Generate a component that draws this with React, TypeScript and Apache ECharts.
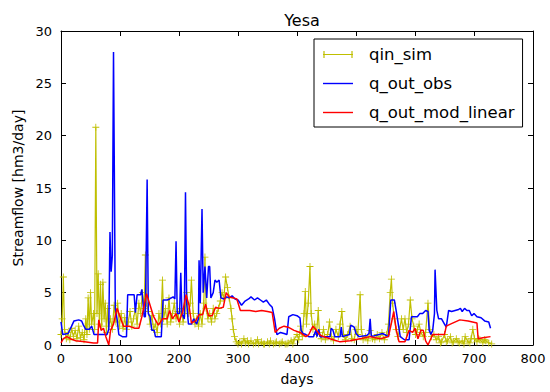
import React, { useEffect, useRef } from "react";
import * as echarts from "echarts";

const chartTitle = "Yesa";
const xName = "days";
const yName = "Streamflow [hm3/day]";
const seriesNames = ["qin_sim", "q_out_obs", "q_out_mod_linear"];

const qinDays = [
  0, 2, 4, 6, 9, 12, 15, 18, 21, 24, 27, 30, 33, 36, 39, 42, 44, 46, 48, 50, 52, 55, 57, 59, 61, 63, 65, 67, 69, 71,
  73, 75, 77, 79, 81, 84, 87, 90, 93, 96, 99, 102, 105, 108, 111, 114, 117, 120, 123, 126, 129, 132, 135, 138, 141,
  143, 145, 148, 151, 154, 157, 160, 163, 166, 169, 172, 174, 177, 180, 183, 186, 189, 192, 195, 198, 201, 204, 207,
  210, 213, 216, 219, 221, 224, 227, 230, 233, 236, 239, 242, 244, 246, 249, 252, 255, 258, 261, 264, 267, 270, 273,
  276, 279, 282, 285, 288, 290, 292, 294, 297, 300, 303, 306, 310, 313, 316, 318, 322, 326, 330, 333, 335, 340, 343,
  345, 350, 353, 355, 360, 363, 365, 370, 373, 375, 380, 383, 385, 390, 393, 395, 400, 403, 406, 409, 412, 414, 416,
  419, 422, 424, 427, 430, 433, 436, 438, 441, 445, 448, 452, 455, 458, 462, 466, 470, 473, 476, 479, 482, 486, 490,
  493, 497, 500, 503, 507, 509, 512, 516, 520, 524, 528, 532, 536, 540, 544, 548, 552, 555, 558, 560, 562, 565, 568,
  571, 574, 577, 580, 583, 586, 589, 592, 595, 598, 601, 604, 607, 610, 614, 618, 622, 625, 628, 632, 636, 640, 643,
  645, 650, 653, 655, 660, 663, 665, 670, 673, 675, 680, 683, 685, 690, 693, 695, 698, 701, 705, 708, 710, 715, 718,
  720, 725, 730,
];
const qinValues = [
  1.0, 2.5, 6.5, 1.5, 0.6, 1.2, 0.5, 1.6, 0.8, 1.4, 0.6, 1.8, 0.7, 1.2, 0.5, 2.5, 1.0, 4.5, 1.5, 5.0, 2.0, 3.0, 1.5,
  20.8, 3.0, 6.8, 2.0, 5.8, 1.8, 6.0, 2.5, 4.0, 1.2, 3.5, 1.8, 2.5, 1.5, 3.8, 2.2, 4.0, 1.8, 3.0, 1.6, 2.6, 1.5, 2.2,
  3.2, 1.8, 2.5, 3.5, 2.0, 4.0, 3.0, 5.0, 3.5, 8.6, 4.0, 3.2, 2.0, 2.8, 1.5, 2.0, 1.2, 3.0, 2.0, 6.2, 2.5, 3.5, 2.0,
  4.5, 2.2, 3.0, 4.0, 2.5, 3.2, 2.0, 3.5, 2.2, 3.0, 5.0, 3.0, 4.0, 6.2, 3.0, 2.0, 2.5, 1.8, 3.0, 2.0, 4.0, 8.4, 3.5,
  2.5, 3.0, 2.2, 3.5, 2.5, 3.0, 3.5, 4.2, 5.0, 4.5, 6.5, 5.5, 4.5, 3.5, 2.5, 1.5, 0.8, 0.3, 0.1, 0.3, 0.1, 0.6, 0.2,
  0.4, 0.1, 0.4, 0.1, 0.2, 0.5, 0.1, 0.3, 0.1, 0.1, 0.3, 0.1, 0.4, 0.1, 0.2, 0.3, 0.1, 0.2, 0.3, 0.1, 0.1, 0.2, 0.4,
  0.1, 0.5, 1.0, 0.5, 1.8, 0.8, 3.0, 5.1, 2.0, 4.0, 7.5, 3.0, 1.5, 2.0, 1.0, 3.3, 1.2, 0.6, 1.5, 0.5, 1.0, 2.2, 0.8,
  0.4, 1.5, 0.8, 2.0, 3.2, 1.0, 0.5, 1.0, 1.8, 0.6, 0.5, 1.5, 1.0, 4.8, 1.5, 0.5, 0.8, 0.4, 1.4, 0.6, 0.5, 1.0, 0.6,
  1.2, 0.5, 1.0, 2.0, 5.0, 6.3, 4.0, 2.5, 1.5, 0.8, 1.5, 2.5, 1.5, 2.5, 1.2, 2.0, 4.3, 2.5, 1.8, 1.0, 1.5, 2.0, 1.2,
  0.8, 1.2, 4.0, 1.5, 0.8, 1.0, 0.5, 0.8, 0.2, 0.3, 1.0, 0.3, 0.4, 0.8, 0.2, 0.3, 0.6, 0.3, 0.2, 0.4, 0.1, 0.8, 0.3,
  0.2, 0.6, 1.5, 0.6, 0.3, 0.6, 0.5, 0.2, 0.5, 0.4, 0.2, 0.1,
];

const obsDays = [
  0, 3, 12, 18, 22, 30, 35, 38, 42, 48, 52, 56, 66, 78, 81, 83, 85, 87, 89, 92, 95, 98, 104, 111, 113, 120, 124, 126,
  129, 135, 137, 141, 143, 146, 148, 151, 154, 158, 160, 170, 173, 180, 184, 190, 193, 195, 197, 201, 203, 205, 209,
  211, 213, 216, 221, 225, 230, 233, 234, 236, 239, 241, 244, 247, 250, 252, 254, 258, 261, 264, 268, 271, 276, 281,
  285, 290, 295, 300, 306, 312, 318, 322, 328, 333, 338, 343, 348, 353, 358, 362, 366, 372, 378, 383, 386, 393, 400,
  405, 407, 410, 415, 420, 428, 432, 434, 437, 439, 450, 456, 458, 461, 464, 473, 475, 477, 489, 491, 497, 500, 505,
  518, 522, 524, 526, 545, 555, 559, 565, 568, 575, 582, 590, 594, 600, 604, 608, 613, 618, 622, 624, 627, 630, 633,
  634, 637, 640, 645, 650, 653, 657, 662, 668, 674, 677, 680, 684, 688, 692, 696, 700, 705, 712, 718, 725, 728,
];
const obsValues = [
  2.2, 1.0, 1.1, 1.8, 2.3, 2.4, 2.3, 1.9, 1.5, 1.5, 1.8, 1.0, 1.0, 1.0, 1.5, 10.8, 7.0, 8.5, 28.0, 3.5, 2.5, 1.0, 0.8,
  0.8, 4.8, 4.8, 4.8, 3.1, 4.8, 4.8, 5.3, 2.7, 2.7, 15.8, 3.0, 2.7, 1.4, 1.4, 0.8, 0.8, 4.3, 4.3, 4.4, 4.6, 4.4, 9.9,
  3.0, 3.0, 6.9, 3.0, 2.5, 14.6, 4.0, 2.0, 2.0, 2.5, 2.0, 2.5, 8.1, 4.0, 13.0, 5.0, 7.5, 4.5, 7.5, 7.5, 4.5, 5.0, 6.2,
  6.0, 6.2, 4.5, 4.4, 4.6, 4.5, 4.7, 4.4, 4.3, 3.8, 4.2, 4.4, 4.6, 4.3, 4.5, 4.3, 4.1, 4.3, 3.9, 3.6, 2.5, 1.0, 1.2,
  1.1, 1.0, 2.7, 2.9, 2.8, 2.6, 1.4, 1.1, 1.0, 0.8, 0.8, 1.4, 0.8, 1.5, 0.8, 0.8, 0.8, 1.6, 1.4, 0.8, 0.8, 1.7, 0.8,
  1.0, 1.9, 1.7, 1.1, 0.8, 0.9, 1.1, 2.5, 0.8, 1.1, 0.8, 4.3, 4.3, 3.3, 0.8, 0.5, 0.5, 2.7, 2.7, 2.7, 3.0, 3.0, 3.3,
  3.2, 1.4, 1.0, 1.4, 3.0, 7.2, 3.3, 2.5, 2.5, 2.0, 1.7, 3.3, 3.2, 3.3, 3.4, 3.5, 3.2, 3.5, 3.3, 3.3, 2.8, 3.0, 2.7,
  2.6, 2.3, 2.2, 1.6,
];

const modDays = [
  0, 4, 10, 16, 25, 40, 55, 62, 64, 68, 72, 76, 81, 84, 89, 95, 100, 106, 115, 125, 132, 137, 145, 151, 157, 165, 172,
  180, 184, 189, 195, 200, 206, 212, 217, 221, 228, 234, 240, 245, 250, 256, 262, 268, 275, 280, 285, 292, 298, 304,
  310, 320, 330, 340, 350, 358, 363, 370, 378, 385, 395, 405, 415, 420, 427, 433, 440, 456, 473, 490, 507, 524, 541,
  555, 560, 564, 568, 573, 583, 590, 596, 600, 605, 610, 614, 618, 622, 626, 630, 640, 650, 653, 660, 676, 690, 705,
  707, 715, 728,
];
const modValues = [
  0.2, 0.6, 0.8, 0.6, 0.4, 0.3, 0.2, 0.2, 2.4, 1.4, 1.6, 0.8, 0.0, 1.4, 2.0, 3.5, 2.7, 1.8, 1.8, 1.6, 1.6, 2.7, 4.9,
  3.8, 2.7, 1.9, 2.5, 2.5, 3.3, 2.5, 3.0, 2.2, 3.1, 4.8, 3.8, 2.1, 2.3, 2.9, 2.9, 3.9, 2.8, 2.8, 3.6, 3.5, 3.6, 5.0,
  4.6, 4.5, 4.4, 3.3, 3.3, 3.3, 3.2, 3.3, 3.2, 3.1, 1.2, 1.6, 1.8, 1.7, 1.4, 1.2, 0.8, 1.0, 1.8, 1.4, 0.9, 0.6, 0.3,
  0.4, 0.6, 0.8, 0.6, 0.8, 2.1, 3.2, 1.5, 0.3, 0.3, 1.4, 1.2, 1.6, 0.6, 1.4, 1.4, 0.4, 0.0, 0.5, 1.0, 1.0, 1.0, 1.8,
  2.0, 2.4, 2.3, 2.1, 0.6, 0.7, 0.8,
];

const plusSymbol = "path://M4.4,0H5.6V4.4H10V5.6H5.6V10H4.4V5.6H0V4.4H4.4Z";
// legend icons: a horizontal stroke (with '+' marks at both ends for qin_sim), padded box keeps proportions
const lineIcon = "path://M0,0M0,6.3H30V7.7H0ZM30,14";
const plusLineIcon =
  "path://M0,0M0,6.4H30V7.6H0ZM0.4,3.5H1.6V10.5H0.4ZM28.4,3.5H29.6V10.5H28.4ZM30,14";

export default function App() {
  const ref = useRef<HTMLDivElement>(null);
  useEffect(() => {
    const chart = echarts.init(ref.current!, null, { renderer: "svg" });
    const pair = (d: number[], v: number[]) => d.map((x, i) => [x, v[i]]);
    const font = "DejaVu Sans";
    const black = "#000";
    const tick = { show: true, inside: true, length: 5, lineStyle: { color: black, width: 1 } };
    const line = { show: true, onZero: false, lineStyle: { color: black, width: 1 } };
    chart.setOption({
      animation: false,
      backgroundColor: "#fff",
      textStyle: { fontFamily: font },
      title: {
        text: chartTitle,
        left: 297,
        top: 7,
        textAlign: "center",
        textStyle: { fontFamily: font, fontSize: 16, fontWeight: "normal", color: black },
      },
      grid: { left: 61, right: 17, top: 31, bottom: 47, containLabel: false },
      legend: {
        orient: "vertical",
        left: 314,
        top: 39,
        padding: [7, 8, 6, 9],
        itemGap: 12,
        itemWidth: 30,
        itemHeight: 14,
        borderColor: black,
        borderWidth: 1,
        borderRadius: 0,
        backgroundColor: "#fff",
        textStyle: { fontFamily: font, fontSize: 16.5, color: black, padding: [0, 0, 0, 11] },
        data: [
          { name: seriesNames[0], icon: plusLineIcon },
          { name: seriesNames[1], icon: lineIcon },
          { name: seriesNames[2], icon: lineIcon },
        ],
      },
      xAxis: [
        {
          type: "value",
          min: 0,
          max: 800,
          interval: 100,
          position: "bottom",
          name: xName,
          nameLocation: "middle",
          nameGap: 27,
          nameTextStyle: { fontFamily: font, fontSize: 14, color: black },
          axisLine: line,
          axisTick: tick,
          axisLabel: { color: black, fontFamily: font, fontSize: 13, margin: 7 },
          splitLine: { show: false },
        },
        {
          type: "value",
          min: 0,
          max: 800,
          interval: 100,
          position: "top",
          axisLine: line,
          axisTick: tick,
          axisLabel: { show: false },
          splitLine: { show: false },
        },
      ],
      yAxis: [
        {
          type: "value",
          min: 0,
          max: 30,
          interval: 5,
          position: "left",
          name: yName,
          nameLocation: "middle",
          nameGap: 35,
          nameTextStyle: { fontFamily: font, fontSize: 14, color: black },
          axisLine: line,
          axisTick: tick,
          axisLabel: { color: black, fontFamily: font, fontSize: 13, margin: 9 },
          splitLine: { show: false },
        },
        {
          type: "value",
          min: 0,
          max: 30,
          interval: 5,
          position: "right",
          axisLine: line,
          axisTick: tick,
          axisLabel: { show: false },
          splitLine: { show: false },
        },
      ],
      series: [
        {
          name: seriesNames[0],
          type: "line",
          data: pair(qinDays, qinValues),
          symbol: plusSymbol,
          symbolSize: 7,
          showAllSymbol: true,
          lineStyle: { color: "#bfbf00", width: 1.2 },
          itemStyle: { color: "#bfbf00" },
          z: 2,
        },
        {
          name: seriesNames[1],
          type: "line",
          data: pair(obsDays, obsValues),
          showSymbol: false,
          symbol: "none",
          lineStyle: { color: "#0000ff", width: 1.5 },
          itemStyle: { color: "#0000ff" },
          z: 3,
        },
        {
          name: seriesNames[2],
          type: "line",
          data: pair(modDays, modValues),
          showSymbol: false,
          symbol: "none",
          lineStyle: { color: "#ff0000", width: 1.5 },
          itemStyle: { color: "#ff0000" },
          z: 4,
        },
      ],
    });
    return () => chart.dispose();
  }, []);
  return (
    <div
      ref={ref}
      style={{ position: "absolute", left: 0, top: 0, width: 550, height: 392, background: "#fff" }}
    />
  );
}
